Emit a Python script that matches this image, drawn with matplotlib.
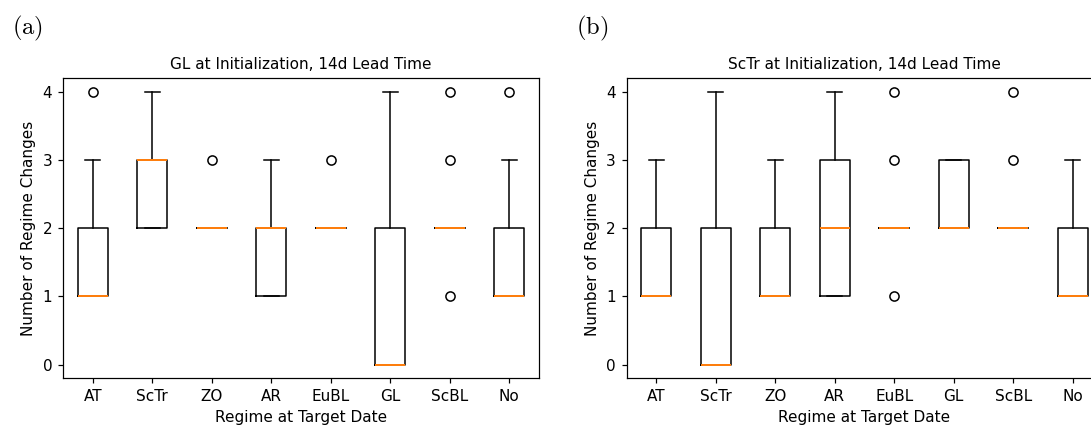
import matplotlib
matplotlib.use("Agg")
import matplotlib.pyplot as plt

categories = ["AT", "ScTr", "ZO", "AR", "EuBL", "GL", "ScBL", "No"]

# Panel (a): GL at initialization
a_q1 = [1, 2, 2, 1, 2, 0, 2, 1]
a_med = [1, 3, 2, 2, 2, 0, 2, 1]
a_q3 = [2, 3, 2, 2, 2, 2, 2, 2]
a_lo = [1, 2, 2, 1, 2, 0, 2, 1]
a_hi = [3, 4, 2, 3, 2, 4, 2, 3]
a_fliers = [[4], [], [3], [], [3], [], [1, 3, 4], [4]]

# Panel (b): ScTr at initialization
b_q1 = [1, 0, 1, 1, 2, 2, 2, 1]
b_med = [1, 0, 1, 2, 2, 2, 2, 1]
b_q3 = [2, 2, 2, 3, 2, 3, 2, 2]
b_lo = [1, 0, 1, 1, 2, 2, 2, 1]
b_hi = [3, 4, 3, 4, 2, 3, 2, 3]
b_fliers = [[], [], [], [], [1, 3, 4], [], [3, 4], []]

titles = ["GL at Initialization, 14d Lead Time", "ScTr at Initialization, 14d Lead Time"]
panel_labels = ["(a)", "(b)"]

plt.rcParams['mathtext.fontset'] = 'cm'

DPI = 110
fig = plt.figure(figsize=(1091 / DPI, 426 / DPI), dpi=DPI)
ax1 = fig.add_axes([63 / 1091, 0.112, 476 / 1091, 0.704])
ax2 = fig.add_axes([626.5 / 1091, 0.112, 476 / 1091, 0.704])


def make_stats(q1, med, q3, lo, hi, fl):
    stats = []
    for i in range(len(categories)):
        stats.append(dict(label=categories[i], q1=q1[i], med=med[i], q3=q3[i],
                          whislo=lo[i], whishi=hi[i], fliers=fl[i]))
    return stats


data = [
    make_stats(a_q1, a_med, a_q3, a_lo, a_hi, a_fliers),
    make_stats(b_q1, b_med, b_q3, b_lo, b_hi, b_fliers),
]

for ax, st, title in zip([ax1, ax2], data, titles):
    ax.bxp(st, showfliers=True,
           medianprops=dict(color="#ff7f0e", linewidth=1.3, zorder=3))
    ax.set_title(title, fontsize=10)
    ax.set_ylabel("Number of Regime Changes", fontsize=10)
    ax.set_xlabel("Regime at Target Date", fontsize=10)
    ax.set_yticks([0, 1, 2, 3, 4])
    ax.set_ylim(-0.2, 4.2)
    ax.set_xlim(0.5, 8.5)

fig.text(12 / 1091, 1 - 28 / 426, r"$\mathrm{" + panel_labels[0] + "}$", fontsize=16, va="center", ha="left")
fig.text(576 / 1091, 1 - 28 / 426, r"$\mathrm{" + panel_labels[1] + "}$", fontsize=16, va="center", ha="left")

fig.savefig("out.png", dpi=DPI)
